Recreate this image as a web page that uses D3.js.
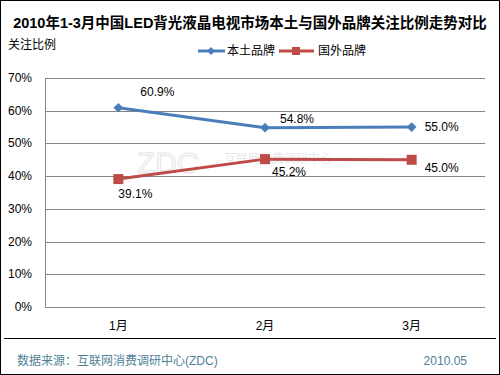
<!DOCTYPE html>
<html>
<head>
<meta charset="utf-8">
<script src="https://cdn.jsdelivr.net/npm/d3@7"></script>
<style>
  body { margin: 0; background: #fff; }
  text { font-family: "Liberation Sans", Arial, "Noto Sans CJK SC", sans-serif; }
</style>
</head>
<body>
<div id="container"></div>
<script>
let w = 500;
let h = 375;

let months = ["1月", "2月", "3月"];
let seriesNames = ["本土品牌", "国外品牌"];
let localValues = [60.9, 54.8, 55.0];
let foreignValues = [39.1, 45.2, 45.0];
let yTicks = [0, 10, 20, 30, 40, 50, 60, 70];

let blue = "#4a7ebb";
let red = "#be4b48";

let viz = d3.select("#container")
    .append("svg")
      .attr("width", w)
      .attr("height", h)
      .style("background-color", "white")
;

// outer frame
viz.append("rect")
  .attr("x", 0.5).attr("y", 0.5)
  .attr("width", w - 1).attr("height", h - 1)
  .attr("fill", "none").attr("stroke", "black");

// title
viz.append("text")
  .attr("x", w / 2).attr("y", 28)
  .attr("text-anchor", "middle")
  .style("font-size", "14.5px").style("font-weight", "bold")
  .text("2010年1-3月中国LED背光液晶电视市场本土与国外品牌关注比例走势对比");

viz.append("text")
  .attr("x", 8).attr("y", 49)
  .style("font-size", "12px")
  .text("关注比例");

let plotLeft = 45, plotRight = 485, plotTop = 78, plotBottom = 307;

let xScale = d3.scalePoint().domain(months).range([plotLeft, plotRight]).padding(0.5);
let yScale = d3.scaleLinear().domain([0, 70]).range([plotBottom, plotTop]);

// gridlines
viz.append("g").selectAll("line").data(yTicks).enter().append("line")
  .attr("x1", plotLeft).attr("x2", plotRight)
  .attr("y1", d => Math.round(yScale(d)) + 0.5)
  .attr("y2", d => Math.round(yScale(d)) + 0.5)
  .attr("stroke", "#868686");

viz.append("line")
  .attr("x1", plotLeft + 0.5).attr("x2", plotLeft + 0.5)
  .attr("y1", plotTop).attr("y2", plotBottom)
  .attr("stroke", "#868686");

// y labels
viz.append("g").selectAll("text").data(yTicks).enter().append("text")
  .attr("x", 32).attr("y", d => yScale(d) + 4)
  .attr("text-anchor", "end")
  .style("font-size", "12px")
  .text(d => d + "%");

// x labels
viz.append("g").selectAll("text").data(months).enter().append("text")
  .attr("x", d => xScale(d)).attr("y", 330)
  .attr("text-anchor", "middle")
  .style("font-size", "12px")
  .text(d => d);

// watermark
viz.append("text")
  .attr("x", 137).attr("y", 173)
  .style("font-size", "30px").attr("fill", "none")
  .attr("stroke", "#e4e4e4").attr("stroke-width", 1)
  .text("ZDC");
viz.append("text")
  .attr("x", 224).attr("y", 163)
  .style("font-size", "12px").attr("fill", "#e8e8e8")
  .text("互联网消费调研中心");

let line = d3.line()
  .x((d, i) => xScale(months[i]))
  .y(d => yScale(d));

viz.append("path").datum(localValues)
  .attr("d", line).attr("fill", "none")
  .attr("stroke", blue).attr("stroke-width", 3);
viz.append("path").datum(foreignValues)
  .attr("d", line).attr("fill", "none")
  .attr("stroke", red).attr("stroke-width", 3);

viz.append("g").selectAll("path").data(localValues).enter().append("path")
  .attr("d", d3.symbol().type(d3.symbolDiamond2).size(60))
  .attr("transform", (d, i) => "translate(" + xScale(months[i]) + "," + yScale(d) + ")")
  .attr("fill", blue);
viz.append("g").selectAll("rect").data(foreignValues).enter().append("rect")
  .attr("x", (d, i) => xScale(months[i]) - 5)
  .attr("y", d => yScale(d) - 5)
  .attr("width", 10).attr("height", 10)
  .attr("fill", red);

// value labels
let localOffsets = [[22, -12], [15, -5], [13, 4]];
let foreignOffsets = [[0, 19], [7, 17], [13, 12]];
viz.append("g").selectAll("text").data(localValues).enter().append("text")
  .attr("x", (d, i) => xScale(months[i]) + localOffsets[i][0])
  .attr("y", (d, i) => yScale(d) + localOffsets[i][1])
  .style("font-size", "12px")
  .text(d => d.toFixed(1) + "%");
viz.append("g").selectAll("text").data(foreignValues).enter().append("text")
  .attr("x", (d, i) => xScale(months[i]) + foreignOffsets[i][0])
  .attr("y", (d, i) => yScale(d) + foreignOffsets[i][1])
  .style("font-size", "12px")
  .text(d => d.toFixed(1) + "%");

// legend
let legend = viz.append("g");
legend.append("line").attr("x1", 198).attr("x2", 225).attr("y1", 51).attr("y2", 51)
  .attr("stroke", blue).attr("stroke-width", 3);
legend.append("path").attr("d", d3.symbol().type(d3.symbolDiamond2).size(40))
  .attr("transform", "translate(211,51)").attr("fill", blue);
legend.append("text").attr("x", 227).attr("y", 55).style("font-size", "12px").text(seriesNames[0]);
legend.append("line").attr("x1", 279).attr("x2", 314).attr("y1", 51).attr("y2", 51)
  .attr("stroke", red).attr("stroke-width", 3);
legend.append("rect").attr("x", 292).attr("y", 47).attr("width", 8).attr("height", 8).attr("fill", red);
legend.append("text").attr("x", 318).attr("y", 55).style("font-size", "12px").text(seriesNames[1]);

// footer
viz.append("line").attr("x1", 4).attr("x2", 496).attr("y1", 338.5).attr("y2", 338.5)
  .attr("stroke", "black");
viz.append("text").attr("x", 17).attr("y", 365)
  .style("font-size", "12px").attr("fill", "#4f7f99")
  .text("数据来源：互联网消费调研中心(ZDC)");
viz.append("text").attr("x", 467).attr("y", 365).attr("text-anchor", "end")
  .style("font-size", "12px").attr("fill", "#4f7f99")
  .text("2010.05");
</script>
</body>
</html>
